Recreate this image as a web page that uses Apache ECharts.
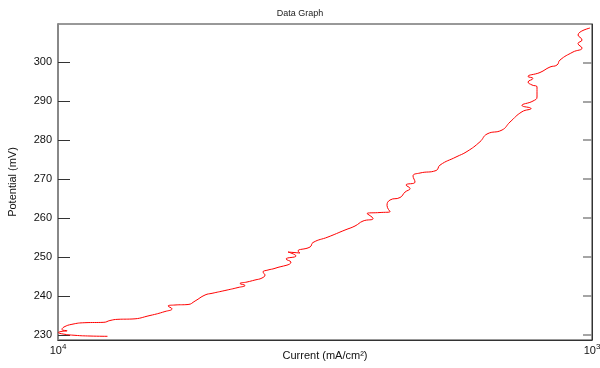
<!DOCTYPE html>
<html><head><meta charset="utf-8">
<script src="https://cdn.jsdelivr.net/npm/echarts@6/dist/echarts.min.js"></script>
<style>html,body{margin:0;padding:0;background:#fff}#c{width:600px;height:368px}</style>
</head><body><div id="c"></div>
<script>
// Current (mA/cm^2)
const current = [
1.238e-4,1.148e-4,1.076e-4,1.022e-4,1.002e-4,1.013e-4,1.040e-4,1.017e-4,1.026e-4,1.062e-4,
1.123e-4,1.219e-4,1.251e-4,1.295e-4,1.376e-4,1.487e-4,1.586e-4,1.635e-4,1.607e-4,1.656e-4,
1.752e-4,1.806e-4,1.885e-4,1.943e-4,2.054e-4,2.173e-4,2.240e-4,2.192e-4,2.259e-4,2.338e-4,
2.410e-4,2.441e-4,2.420e-4,2.473e-4,2.549e-4,2.731e-4,2.673e-4,2.791e-4,2.696e-4,2.839e-4,
2.815e-4,2.965e-4,3.003e-4,3.203e-4,3.447e-4,3.599e-4,3.726e-4,3.890e-4,3.791e-4,4.009e-4,
4.186e-4,4.132e-4,4.186e-4,4.370e-4,4.466e-4,4.563e-4,4.485e-4,4.662e-4,4.622e-4,4.764e-4,
5.105e-4,5.194e-4,5.563e-4,5.833e-4,6.170e-4,6.359e-4,6.785e-4,7.022e-4,7.395e-4,7.688e-4,
7.395e-4,7.754e-4,7.889e-4,7.889e-4,7.721e-4,7.589e-4,7.754e-4,7.589e-4,7.991e-4,8.343e-4,
8.599e-4,8.711e-4,9.213e-4,9.579e-4,9.415e-4,9.579e-4,9.415e-4,9.915e-4
];
// Potential (mV)
const potential = [
229.67,229.74,229.92,230.26,230.64,230.90,231.08,231.41,232.05,232.75,
233.16,233.26,233.72,234.03,234.11,235.01,236.03,236.72,237.44,237.70,
237.83,238.73,240.27,240.70,241.42,242.19,242.71,243.22,243.60,244.12,
244.63,245.40,246.17,246.68,247.12,248.74,249.51,250.28,251.30,251.05,
251.56,252.59,253.74,255.15,256.95,257.98,259.26,259.90,261.19,261.44,
261.65,263.24,264.65,265.29,266.70,267.60,268.50,269.27,270.81,271.58,
272.22,273.63,275.69,277.10,279.61,281.59,282.62,284.67,287.31,288.14,
288.91,290.06,291.09,293.66,294.17,294.94,295.84,296.35,297.38,298.79,
299.30,300.58,302.64,303.67,304.82,305.72,307.00,308.80
];
const yTicks = [230,240,250,260,270,280,290,300];
const xTickLabels = {'0.0001':'{a|10}{s|4}','0.001':'{a|10}{s|3}'};

const data = current.map((c,i)=>[c,potential[i]]);
const chart = echarts.init(document.getElementById('c'), null, {renderer:'canvas'});
const font = 'Liberation Sans, Arial, sans-serif';
chart.setOption({
  animation:false,
  backgroundColor:'#fff',
  title:{text:'Data Graph',left:'center',top:4,textStyle:{fontSize:9,fontWeight:'normal',color:'#222',fontFamily:font}},
  grid:{left:58,right:8,top:24,bottom:28,show:true,borderColor:'#333',borderWidth:1,outerBoundsMode:'none',containLabel:false},
  xAxis:{
    type:'log',logBase:10,min:1e-4,max:1e-3,
    name:'Current (mA/cm²)',nameLocation:'middle',nameGap:10,nameMoveOverlap:false,
    nameTextStyle:{fontSize:11,color:'#111',fontFamily:font},
    axisLine:{show:true,lineStyle:{color:'#333',width:1}},
    axisTick:{show:false},splitLine:{show:false},minorTick:{show:false},
    axisLabel:{margin:3,showMinLabel:true,showMaxLabel:true,
      formatter:v=>{const k=String(+v.toPrecision(3));return xTickLabels[k]||'';},
      rich:{a:{fontSize:11,color:'#111',fontFamily:font},s:{fontSize:8,color:'#111',fontFamily:font,verticalAlign:'top',padding:[0,0,8,0]}}}
  },
  yAxis:[{
    type:'value',min:228.72,max:309.83,
    name:'Potential (mV)',nameLocation:'middle',nameGap:40,nameMoveOverlap:false,
    nameTextStyle:{fontSize:11,color:'#111',fontFamily:font},
    axisLine:{show:true,lineStyle:{color:'#888',width:2}},
    axisTick:{show:true,inside:true,length:12,customValues:yTicks,lineStyle:{color:'#333'}},
    axisLabel:{fontSize:11,color:'#111',fontFamily:font,margin:6,customValues:yTicks},
    splitLine:{show:false}
  },{
    type:'value',min:228.72,max:309.83,position:'right',
    axisLine:{show:true,lineStyle:{color:'#333',width:1}},
    axisTick:{show:true,inside:true,length:9,customValues:yTicks,lineStyle:{color:'#888',width:1.5}},
    axisLabel:{show:false},splitLine:{show:false}
  }],
  series:[{
    type:'line',data:data,showSymbol:false,smooth:0.5,
    lineStyle:{color:'#ff0000',width:1},
    clip:true
  }]
});
</script></body></html>
